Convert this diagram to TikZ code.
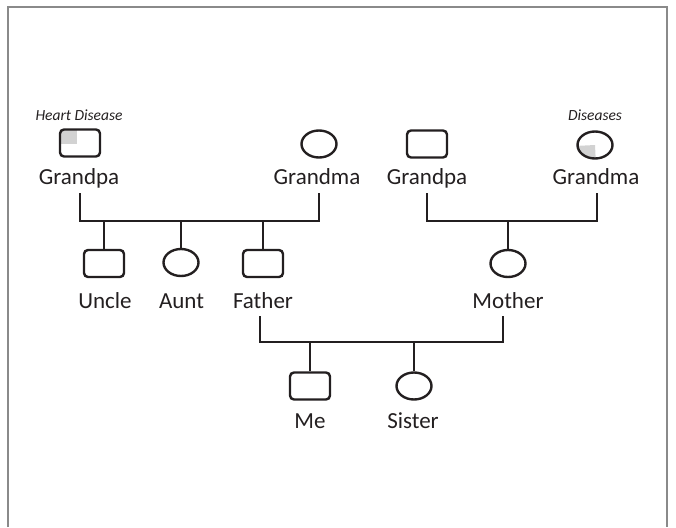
\documentclass[tikz,border=0pt]{standalone}
\usepackage{fontspec}
\setmainfont{Carlito}
\usetikzlibrary{shapes.geometric}
\definecolor{ink}{HTML}{231F20}
\definecolor{greyfill}{HTML}{D2D2D2}
\definecolor{framec}{HTML}{8A8A8A}
\begin{document}
\begin{tikzpicture}[x=1pt,y=-1pt,
  male/.style={draw=ink,line width=2.4pt,rounded corners=4pt,minimum width=40pt,minimum height=27pt,inner sep=0pt},
  female/.style={draw=ink,line width=2.4pt,ellipse,minimum width=35pt,minimum height=27pt,inner sep=0pt},
  pname/.style={font=\fontsize{23}{27}\selectfont,text=ink,anchor=base,inner sep=0pt},
  note/.style={font=\fontsize{15.5}{18}\selectfont\itshape,text=ink,inner sep=0pt},
  link/.style={draw=ink,line width=2.4pt}]
\useasboundingbox (0,0) rectangle (676,527);
% frame
\draw[framec,line width=1.3pt] (8,527) -- (8,7) -- (667,7) -- (667,527);
% grandparents
\node[male,path picture={\fill[fill=greyfill,sharp corners] (path picture bounding box.north west) rectangle ([xshift=-3pt,yshift=-1pt]path picture bounding box.center);}] (gpL) at (80,143) {};
\node[female] (gmL) at (319,144) {};
\node[male] (gpR) at (427,144) {};
\node[female,path picture={\fill[fill=greyfill,sharp corners] (path picture bounding box.center) -- +(-30,1.5) -- +(-30,30) -- +(1.5,30) -- cycle;}] (gmR) at (595,145) {};
\node[note] (hd) at (79,115) {Heart Disease};
\node[note] (ds) at (595,115) {Diseases};
\node[pname] (nGpL) at (79,184) {Grandpa};
\node[pname] (nGmL) at (317,184) {Grandma};
\node[pname] (nGpR) at (427,184) {Grandpa};
\node[pname] (nGmR) at (596,184) {Grandma};
% second generation
\node[male] (uncle) at (104,263.5) {};
\node[female] (aunt) at (181,262.5) {};
\node[male] (father) at (263,263.5) {};
\node[female] (mother) at (508,263.5) {};
\node[pname] (nUncle) at (105,308) {Uncle};
\node[pname] (nAunt) at (181.5,308) {Aunt};
\node[pname] (nFather) at (263,308) {Father};
\node[pname] (nMother) at (508,308) {Mother};
% third generation
\node[male] (me) at (310,386) {};
\node[female] (sister) at (414,386) {};
\node[pname] (nMe) at (310,428) {Me};
\node[pname] (nSister) at (413,428) {Sister};
% brackets
\coordinate (bl) at (200,221);
\coordinate (br) at (510,221);
\coordinate (bb) at (380,342);
\draw[link] ([xshift=1pt,yshift=-9pt]nGpL.base) |- (bl) -| ([xshift=2pt,yshift=-9pt]nGmL.base);
\draw[link] (uncle.north) -- (uncle.north |- bl);
\draw[link] (aunt.north) -- (aunt.north |- bl);
\draw[link] (father.north) -- (father.north |- bl);
\draw[link] ([yshift=-9pt]nGpR.base) |- (br) -| ([xshift=1pt,yshift=-9pt]nGmR.base);
\draw[link] (mother.north) -- (mother.north |- br);
\draw[link] ([xshift=-3pt,yshift=-8pt]nFather.base) |- (bb) -| ([xshift=-5pt,yshift=-8pt]nMother.base);
\draw[link] (me.north) -- (me.north |- bb);
\draw[link] (sister.north) -- (sister.north |- bb);
\end{tikzpicture}
\end{document}
